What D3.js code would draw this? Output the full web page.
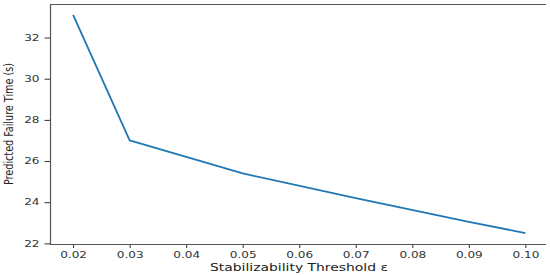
<!DOCTYPE html>
<html>
<head>
<meta charset="utf-8">
<script src="https://cdn.jsdelivr.net/npm/d3@7"></script>
<style>
  body { margin: 0; background: #fff; }
  svg { display: block; }
</style>
</head>
<body>
<div id="chart"></div>
<script>
var width = 550;
var height = 275;

// data
var thresholds = [0.02, 0.03, 0.05, 0.07, 0.09, 0.10];
var failureTimes = [33.1, 27.0, 25.4, 24.2, 23.05, 22.5];
var xTickVals = [0.02, 0.03, 0.04, 0.05, 0.06, 0.07, 0.08, 0.09, 0.10];
var yTickVals = [22, 24, 26, 28, 30, 32];

var xScale = d3.scaleLinear().domain([0.016, 0.104]).range([50.5, 548]);
var yScale = d3.scaleLinear().domain([21.97, 33.63]).range([244, 4]);

var svg = d3.select("#chart")
    .append("svg")
    .attr("width", width)
    .attr("height", height);

// text in the picture is stretched sideways, so widen glyphs a bit
function stretch(sel, k) {
    sel.each(function() {
        var w = this.getComputedTextLength();
        d3.select(this)
            .attr("textLength", w * k)
            .attr("lengthAdjust", "spacingAndGlyphs");
    });
}

// x axis
var xAxisG = svg.append("g")
    .attr("transform", "translate(0," + 244 + ")")
    .call(d3.axisBottom(xScale).tickValues(xTickVals).tickFormat(d3.format(".2f")).tickSize(4).tickPadding(4));

// y axis
var yAxisG = svg.append("g")
    .attr("transform", "translate(50.5,0)")
    .call(d3.axisLeft(yScale).tickValues(yTickVals).tickSize(6).tickPadding(5));

[xAxisG, yAxisG].forEach(function(g) {
    g.select(".domain").remove();
    g.selectAll(".tick line").attr("stroke", "#333");
    g.selectAll(".tick text")
        .attr("fill", "#333")
        .style("font-family", "DejaVu Sans, sans-serif")
        .style("font-size", "8.5px")
        .call(stretch, 1.42);
});

// spines (right one is cut off in the picture)
svg.append("path")
    .attr("d", "M546,4.5H50.5V244.5H546")
    .attr("fill", "none")
    .attr("stroke", "#555")
    .attr("stroke-width", 1.2);

// the line
var line = d3.line()
    .x(function(d, i) { return xScale(thresholds[i]); })
    .y(function(d) { return yScale(d); });

svg.append("path")
    .datum(failureTimes)
    .attr("d", line)
    .attr("fill", "none")
    .attr("stroke", "#1f77b4")
    .attr("stroke-width", 1.8)
    .attr("stroke-linejoin", "round");

// axis labels
svg.append("text")
    .attr("x", 299)
    .attr("y", 271)
    .attr("text-anchor", "middle")
    .attr("fill", "#222")
    .style("font-family", "DejaVu Sans, sans-serif")
    .style("font-size", "10.5px")
    .attr("textLength", 178)
    .attr("lengthAdjust", "spacingAndGlyphs")
    .text("Stabilizability Threshold ε");

svg.append("text")
    .attr("transform", "translate(13,124) rotate(-90)")
    .attr("text-anchor", "middle")
    .attr("fill", "#222")
    .style("font-family", "Liberation Sans Narrow, DejaVu Sans Condensed, sans-serif")
    .style("font-size", "12px")
    .attr("textLength", 122)
    .attr("lengthAdjust", "spacingAndGlyphs")
    .text("Predicted Failure Time (s)");
</script>
</body>
</html>
